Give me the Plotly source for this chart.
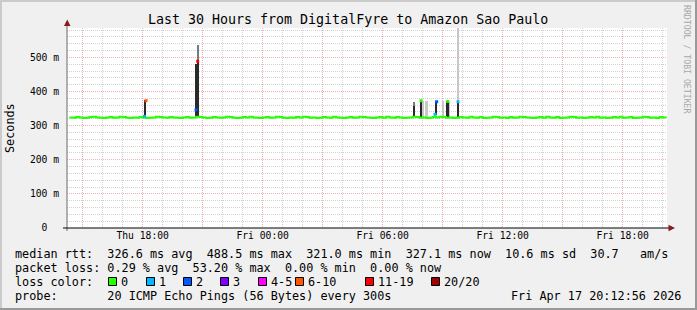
import plotly.graph_objects as go
from datetime import datetime, timedelta

# ---------------- data ----------------
START = datetime(2026, 4, 16, 14, 12, 56)
END = datetime(2026, 4, 17, 20, 12, 56)

# median rtt (ms), one value every 10 minutes from Thu 14:20
MEDIAN_T0 = datetime(2026, 4, 16, 14, 20)
median_ms = [
    324, 323, 325, 324, 322, 323, 325, 326, 324, 323,
    322, 324, 325, 323, 324, 326, 325, 323, 322, 324,
    323, 325, 324, 322, 323, 324, 326, 325, 324, 323,
    325, 324, 323, 322, 324, 325, 323, 324, 326, 325,
    324, 322, 323, 325, 324, 323, 324, 326, 325, 323,
    322, 323, 325, 324, 326, 324, 323, 322, 324, 325,
    323, 324, 326, 325, 323, 322, 324, 323, 325, 324,
    326, 325, 323, 324, 322, 323, 325, 324, 323, 326,
    324, 323, 322, 324, 325, 323, 324, 326, 325, 324,
    323, 322, 324, 325, 323, 326, 324, 323, 325, 324,
    322, 323, 324, 326, 325, 323, 324, 322, 323, 325,
    324, 326, 325, 323, 324, 322, 323, 325, 324, 323,
    326, 324, 323, 325, 322, 323, 324, 326, 325, 323,
    324, 322, 325, 323, 324, 326, 325, 324, 323, 322,
    324, 325, 323, 326, 324, 323, 325, 322, 323, 324,
    326, 325, 323, 324, 322, 323, 325, 324, 326, 323,
    324, 322, 323, 325, 324, 326, 323, 324, 325, 322,
    323, 324, 326, 325, 323, 324, 322, 325, 324, 323,
]

# smoke (ping spread) in ms
dark_time = ["2026-04-16 18:08", "2026-04-16 20:41", "2026-04-16 20:46",
             "2026-04-17 07:35", "2026-04-17 07:55", "2026-04-17 08:40",
             "2026-04-17 09:15", "2026-04-17 09:46"]
dark_lo = [326, 326, 326, 326, 326, 330, 326, 326]
dark_hi = [375, 480, 488, 357, 373, 371, 371, 370]

mid_time = ["2026-04-16 20:46", "2026-04-17 07:35"]
mid_lo = [488, 357]
mid_hi = [537, 368]

light_time = ["2026-04-17 08:01", "2026-04-17 08:12", "2026-04-17 09:01",
              "2026-04-17 09:20", "2026-04-17 09:46"]
light_lo = [326, 326, 328, 326, 326]
light_hi = [372, 371, 371, 368, 600]

# loss-coloured median points
loss_time = ["2026-04-16 18:05", "2026-04-16 18:10", "2026-04-16 20:40",
             "2026-04-16 20:45", "2026-04-17 07:55", "2026-04-17 08:37",
             "2026-04-17 08:42", "2026-04-17 09:15", "2026-04-17 09:46"]
loss_value = [327, 373, 346, 488.5, 373, 333, 370, 371, 370]
loss_count = [1, 8, 2, 15, 0, 1, 2, 0, 1]

LOSS_LABELS = ["0", "1", "2", "3", "4-5", "6-10", "11-19", "20/20"]
LOSS_COLORS = ["#26ff00", "#00b8ff", "#0059ff", "#7e00ff", "#ff00ff",
               "#ff5500", "#ff0000", "#a00000"]
LOSS_UPPER = [0, 1, 2, 3, 5, 10, 19, 20]

Y_TICKS = [0, 100, 200, 300, 400, 500]
Y_TICK_TEXT = ["0\u00a0\u00a0", "100 m", "200 m", "300 m", "400 m", "500 m"]
X_TICKS = ["2026-04-16 15:00", "2026-04-16 18:00", "2026-04-16 21:00",
           "2026-04-17 00:00", "2026-04-17 03:00", "2026-04-17 06:00",
           "2026-04-17 09:00", "2026-04-17 12:00", "2026-04-17 15:00",
           "2026-04-17 18:00"]
X_TICK_TEXT = ["", "Thu 18:00", "", "Fri 00:00", "", "Fri 06:00", "",
               "Fri 12:00", "", "Fri 18:00"]

TITLE = "Last 30 Hours from DigitalFyre to Amazon Sao Paulo"
LINE_RTT = "median rtt:  326.6 ms avg  488.5 ms max  321.0 ms min  327.1 ms now  10.6 ms sd  30.7   am/s"
LINE_LOSS = "packet loss: 0.29 % avg  53.20 % max  0.00 % min  0.00 % now"
LINE_COLOR = "loss color:"
LINE_PROBE = "probe:       20 ICMP Echo Pings (56 Bytes) every 300s"
STAMP = "Fri Apr 17 20:12:56 2026"

# ---------------- layout helpers ----------------
W, H = 697, 310
L, R, T, B = 67, 667, 28, 228
MONO = "DejaVu Sans Mono"


def px(x):
    return (x - L) / (R - L)


def py(y):
    return (B - y) / (B - T)


def nb(s):
    return s.replace(" ", "\u00a0")


def loss_color(n):
    for up, c in zip(LOSS_UPPER, LOSS_COLORS):
        if n <= up:
            return c
    return LOSS_COLORS[-1]


median_time = [MEDIAN_T0 + timedelta(minutes=10 * i) for i in range(len(median_ms))]
BAR_W = 5.5 * 60 * 1000

fig = go.Figure()


def smoke(times, lo, hi, color):
    fig.add_trace(go.Bar(
        x=times, y=[h - l for l, h in zip(lo, hi)], base=lo, width=BAR_W,
        marker=dict(color=color, line=dict(width=0)), hoverinfo="skip"))


smoke(light_time, light_lo, light_hi, "#c8c8c8")
smoke(mid_time, mid_lo, mid_hi, "#7a7a7a")
smoke(dark_time, dark_lo, dark_hi, "#2a2a2a")

fig.add_trace(go.Scatter(
    x=median_time, y=median_ms, mode="lines", line=dict(color="#26ff00", width=2, shape="hv"),
    hoverinfo="skip"))

fig.add_trace(go.Scatter(
    x=loss_time, y=loss_value, mode="markers",
    marker=dict(symbol="square", size=3, color=[loss_color(n) for n in loss_count],
                line=dict(width=0)),
    hoverinfo="skip"))

red_grid = "#eeb0b0"
gray_grid = "#d2d2d2"
dot = "1px,1px"

fig.update_layout(
    width=W, height=H,
    margin=dict(l=L, r=W - R, t=T, b=H - B, pad=0),
    paper_bgcolor="#f0f0f0", plot_bgcolor="#ffffff",
    showlegend=False, barmode="overlay", bargap=0,
    font=dict(family=MONO, size=10, color="#000000"),
    xaxis=dict(
        type="date", range=[START, END],
        tickmode="array", tickvals=X_TICKS, ticktext=X_TICK_TEXT,
        ticks="", ticklen=0,
        tickfont=dict(family=MONO, size=9.7, color="#000000"),
        showgrid=True, gridcolor=red_grid, griddash=dot, gridwidth=1,
        minor=dict(dtick=3600000, tick0="2026-04-16 15:00", showgrid=True,
                   gridcolor=gray_grid, griddash=dot, gridwidth=1, ticks=""),
        zeroline=False, showline=False, fixedrange=True,
    ),
    yaxis=dict(
        range=[0, 586],
        tickmode="array", tickvals=Y_TICKS, ticktext=Y_TICK_TEXT,
        ticks="outside", ticklen=5, tickcolor="rgba(0,0,0,0)",
        tickfont=dict(family=MONO, size=9.7, color="#000000"),
        showgrid=True, gridcolor=red_grid, griddash=dot, gridwidth=1,
        minor=dict(dtick=20, tick0=0, showgrid=True,
                   gridcolor=gray_grid, griddash=dot, gridwidth=1, ticks=""),
        zeroline=False, showline=False, fixedrange=True,
    ),
)

shapes = []
# frame borders
shapes.append(dict(type="rect", xref="paper", yref="paper", x0=px(0), x1=px(W), y0=py(0), y1=py(2),
                   fillcolor="#cbcbcb", line=dict(width=0), layer="above"))
shapes.append(dict(type="rect", xref="paper", yref="paper", x0=px(0), x1=px(2), y0=py(0), y1=py(H),
                   fillcolor="#cbcbcb", line=dict(width=0), layer="above"))
shapes.append(dict(type="rect", xref="paper", yref="paper", x0=px(W - 2), x1=px(W), y0=py(0), y1=py(H),
                   fillcolor="#999999", line=dict(width=0), layer="above"))
shapes.append(dict(type="rect", xref="paper", yref="paper", x0=px(0), x1=px(W), y0=py(H - 2), y1=py(H),
                   fillcolor="#999999", line=dict(width=0), layer="above"))
# axes
shapes.append(dict(type="line", xref="paper", yref="paper", x0=px(L), x1=px(L), y0=py(231), y1=py(24),
                   line=dict(color="#6a6a6a", width=1), layer="above"))
shapes.append(dict(type="line", xref="paper", yref="paper", x0=px(63), x1=px(670), y0=py(B), y1=py(B),
                   line=dict(color="#000000", width=1), layer="above"))
# arrows
shapes.append(dict(type="path", xref="paper", yref="paper",
                   path=f"M {px(64)} {py(26)} L {px(70.5)} {py(26)} L {px(67.25)} {py(19.5)} Z",
                   fillcolor="#8b1a1a", line=dict(width=0), layer="above"))
shapes.append(dict(type="path", xref="paper", yref="paper",
                   path=f"M {px(668.5)} {py(224.8)} L {px(668.5)} {py(231.2)} L {px(675)} {py(228)} Z",
                   fillcolor="#8b1a1a", line=dict(width=0), layer="above"))

# loss colour legend squares
LEGEND_SQ_X = [108, 146, 183, 220, 258, 295, 365, 431]
for xs, c in zip(LEGEND_SQ_X, LOSS_COLORS):
    shapes.append(dict(type="rect", xref="paper", yref="paper",
                       x0=px(xs + 0.5), x1=px(xs + 8.5), y0=py(277.5), y1=py(285.5),
                       fillcolor=c, line=dict(color="#000000", width=1), layer="above"))

fig.update_layout(shapes=shapes)

ann = []


def text(s, x, y, size=11.8, anchor="left", color="#000000", angle=0, yanchor="middle"):
    ann.append(dict(text=nb(s), x=px(x), y=py(y), xref="paper", yref="paper",
                    xanchor=anchor, yanchor=yanchor, showarrow=False, textangle=angle,
                    borderpad=0, borderwidth=0,
                    font=dict(family=MONO, size=size, color=color)))


text(TITLE, 348, 19, size=13.3, anchor="center")
text("Seconds", 10, 128, size=11.8, anchor="center", angle=-90)
text("RRDTOOL / TOBI OETIKER", 687, 59, size=8.2, anchor="center", color="#a8a8a8", angle=90)
text(LINE_RTT, 15, 254)
text(LINE_LOSS, 15, 268)
text(LINE_COLOR, 15, 282)
text(LINE_PROBE, 15, 296)
text(STAMP, 681, 296, anchor="right")
for xs, lab in zip(LEGEND_SQ_X, LOSS_LABELS):
    text(lab, xs + 13, 282)

fig.update_layout(annotations=ann)

fig.write_html("out.html", config={"displayModeBar": False})
